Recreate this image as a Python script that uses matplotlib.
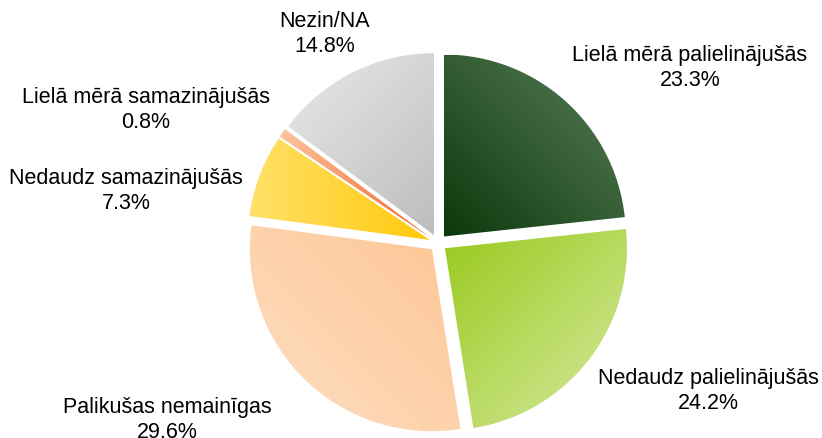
import numpy as np
import matplotlib
matplotlib.use("Agg")
import matplotlib.pyplot as plt
from matplotlib.colors import to_rgb

# ---- data ----
categories = ["Lielā mērā palielinājušās", "Nedaudz palielinājušās",
              "Palikušas nemainīgas", "Nedaudz samazinājušās",
              "Lielā mērā samazinājušās", "Nezin/NA"]
values = [23.3, 24.2, 29.6, 7.3, 0.8, 14.8]

# ---- style ----
grad_start = ["#0b380b", "#98c91c", "#fedfc3", "#ffe068", "#fcc49e", "#e9e9e9"]
grad_end = ["#5b805b", "#d8eba4", "#fdc594", "#ffca0c", "#f2642a", "#bdbdbd"]
grad_dir = [(1, 1), (1, -1), (1, 1), (1, 0), (1, 0), (1, -1)]
label_pos_px = [(690, 68), (708, 391), (167, 420), (126, 191), (146, 110), (325, 34)]

W, H, DPI = 822, 439, 100
CX, CY, R = 438, 244, 182
plt.rcParams['font.family'] = ['Liberation Sans', 'DejaVu Sans']

fig = plt.figure(figsize=(W / DPI, H / DPI), dpi=DPI)
ax = fig.add_axes([0, 0, 1, 1])
xlim = (-CX / R, (W - CX) / R)
ylim = (-(H - CY) / R, CY / R)

wedges, _ = ax.pie(values, startangle=90, counterclock=False,
                   explode=[0.048] * len(values), radius=1,
                   wedgeprops=dict(linewidth=0, edgecolor="none"))

for w, c0, c1, d in zip(wedges, grad_start, grad_end, grad_dir):
    w.set_facecolor("none")
    verts = w.get_path().vertices
    x0, y0 = verts.min(axis=0)
    x1, y1 = verts.max(axis=0)
    n = 300
    X, Y = np.meshgrid(np.linspace(x0, x1, n), np.linspace(y0, y1, n))
    dx, dy = d
    p = X * dx + Y * dy
    t = (p - p.min()) / (p.max() - p.min() + 1e-12)
    a, b = np.array(to_rgb(c0)), np.array(to_rgb(c1))
    img = a[None, None, :] * (1 - t[..., None]) + b[None, None, :] * t[..., None]
    im = ax.imshow(img, extent=(x0, x1, y0, y1), origin="lower",
                   interpolation="bilinear", zorder=1)
    im.set_clip_path(w)

for cat, val, (px, py) in zip(categories, values, label_pos_px):
    ax.text((px - CX) / R, (CY - py) / R, f"{cat}\n{val:.1f}%",
            ha="center", va="center", fontsize=15.5, linespacing=1.25,
            color="#000000")

ax.set_xlim(*xlim)
ax.set_ylim(*ylim)
ax.set_aspect("equal")
ax.axis("off")
fig.savefig("out.png", dpi=DPI)
